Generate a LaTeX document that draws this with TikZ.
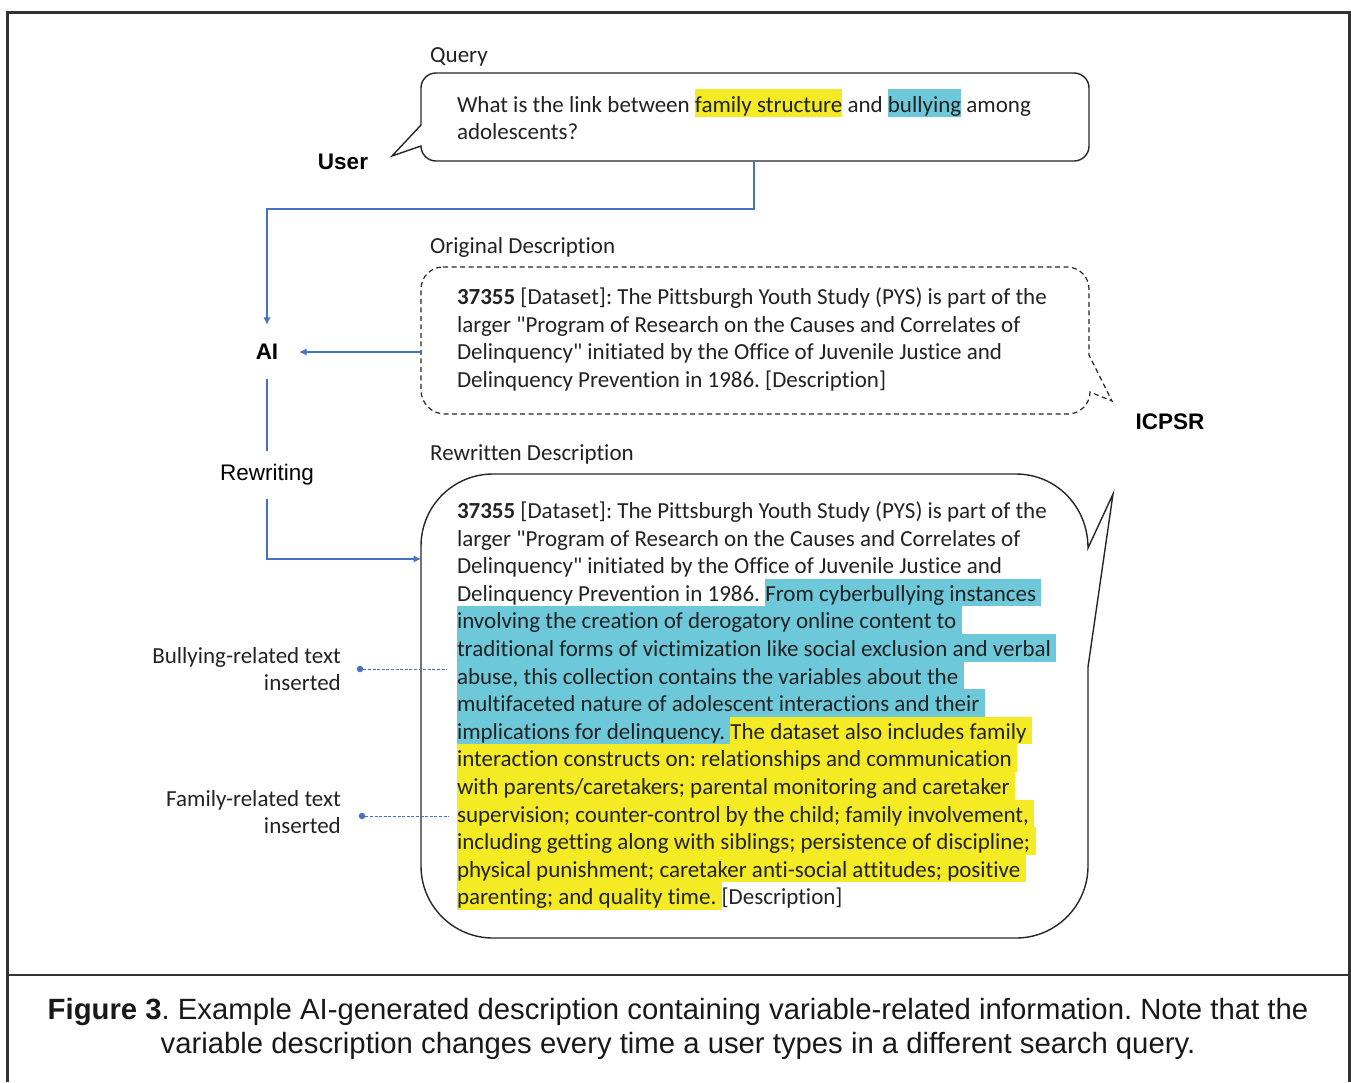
\documentclass[tikz,border=0pt]{standalone}
\usepackage{fontspec}
\setmainfont{Carlito}[Ligatures={TeXOff,CommonOff}]
\newfontfamily\arialf{Liberation Sans}
\usetikzlibrary{arrows.meta}
\definecolor{hly}{HTML}{F4EB24}
\definecolor{hlc}{HTML}{6DC9D9}
\definecolor{connblue}{HTML}{4472C4}
\definecolor{txt}{HTML}{222222}
\definecolor{framec}{HTML}{333333}
\newcommand\bodyfont{\fontsize{23}{27.6}\selectfont}
\newcommand\lblfont{\arialf\fontsize{22.5}{27}\selectfont}
\newcommand\capfont{\arialf\fontsize{29.3}{34}\selectfont}
\newcommand\tsp{\ \null}
\frenchspacing
\tikzset{
  seg/.style={inner sep=0pt, outer sep=0pt, text height=22.6pt, text depth=5pt, anchor=base west, font=\bodyfont, text=txt},
  hy/.style={seg, fill=hly},
  hc/.style={seg, fill=hlc},
  title/.style={inner sep=0pt, anchor=base west, font=\bodyfont, text=txt},
  sidelbl/.style={inner sep=0pt, anchor=east, align=right, font=\bodyfont, text=txt},
  actor/.style={font=\lblfont\bfseries, text=black, inner sep=0pt},
  conn/.style={draw=connblue, line width=2pt},
  arr/.style={-{Latex[length=7.5pt,width=7.5pt]}},
  bubble/.style={draw=black!85, line width=1.4pt},
  dashbubble/.style={draw=black!85, line width=1.2pt, dash pattern=on 5pt off 3.5pt},
  pin/.style={circle, fill=connblue, inner sep=0pt, minimum size=6.5pt},
  pinline/.style={draw=connblue, line width=0.9pt, dash pattern=on 3pt off 1.6pt},
}
\begin{document}
\begin{tikzpicture}[x=1pt,y=-1pt]
\useasboundingbox (0,0) rectangle (1351,1082);
% frame
\draw[framec, line width=2.2pt] (7.5,1082) -- (7.5,12.5) -- (1349.5,12.5) -- (1349.5,1082);
\draw[framec, line width=2.8pt] (7.5,975) -- (1349.5,975);

% ---------- Query bubble ----------
\node[title] (qlbl) at (430,62.5) {Query};
\draw[bubble] (421,125) -- (421,88) .. controls (421,79.7) and (427.7,73) .. (436,73)
  -- (1074,73) .. controls (1082.3,73) and (1089,79.7) .. (1089,88)
  -- (1089,146) .. controls (1089,154.3) and (1082.3,161) .. (1074,161)
  -- (436,161) .. controls (427.7,161) and (421,154.3) .. (421,146)
  -- (392,156) -- cycle;
\node[seg] (q1a) at (457,112) {What is the link between\tsp};
\node[hy] (q1b) at (q1a.base east) {family structure};
\node[seg] (q1c) at (q1b.base east) {\ and\tsp};
\node[hc] (q1d) at (q1c.base east) {bullying};
\node[seg] (q1e) at (q1d.base east) {\ among};
\node[seg] (q2a) at (457,139.6) {adolescents?};
\node[actor] (user) at (343,162) {User};
\coordinate (qdrop) at (754,161);

% ---------- Original description ----------
\node[title] (olbl) at (430,253.5) {Original Description};
\draw[dashbubble] (443,267) -- (1067,267) .. controls (1079.2,267) and (1089,276.8) .. (1089,289)
  -- (1089,355) -- (1112,401) -- (1090,392) .. controls (1090,404) and (1080,414) .. (1068,414)
  -- (445,414) .. controls (431.7,414) and (421,403.3) .. (421,390)
  -- (421,289) .. controls (421,276.8) and (430.8,267) .. (443,267) -- cycle;
\node[seg] (o1) at (457,304.5) {\textbf{37355} [Dataset]: The Pittsburgh Youth Study (PYS) is part of the};
\node[seg] (o2) at (457,332.1) {larger "Program of Research on the Causes and Correlates of};
\node[seg] (o3) at (457,359.7) {Delinquency" initiated by the Office of Juvenile Justice and};
\node[seg] (o4) at (457,387.3) {Delinquency Prevention in 1986. [Description]};
\node[actor] (icpsr) at (1170,422) {ICPSR};
\coordinate (oleft) at (421,352);

% ---------- AI / Rewriting ----------
\node[actor, minimum width=64pt, minimum height=54pt] (ai) at (267,352) {AI};
\node[font=\lblfont, text=black, inner sep=0pt, minimum height=48pt] (rw) at (267,475) {Rewriting};

% ---------- Rewritten description ----------
\node[title] (rlbl) at (430,460.5) {Rewritten Description};
\draw[bubble] (493,474) -- (1016,474) .. controls (1055.8,474) and (1088,506.2) .. (1088,548)
  -- (1113,494) -- (1088,667)
  -- (1088,866) .. controls (1088,905.8) and (1055.8,938) .. (1016,938)
  -- (493,938) .. controls (453.2,938) and (421,905.8) .. (421,866)
  -- (421,546) .. controls (421,506.2) and (453.2,474) .. (493,474) -- cycle;
\coordinate (rleft) at (421,559);

\node[seg] (r1) at (457,518.5) {\textbf{37355} [Dataset]: The Pittsburgh Youth Study (PYS) is part of the};
\node[seg] (r2) at (457,546.1) {larger "Program of Research on the Causes and Correlates of};
\node[seg] (r3) at (457,573.7) {Delinquency" initiated by the Office of Juvenile Justice and};
\node[seg] (r4a) at (457,601.3) {Delinquency Prevention in 1986.\tsp};
\node[hc] (r4b) at (r4a.base east) {From cyberbullying instances\tsp};
\node[hc] (r5) at (457,628.9) {involving the creation of derogatory online content to\tsp};
\node[hc] (r6) at (457,656.5) {traditional forms of victimization like social exclusion and verbal\tsp};
\node[hc] (r7) at (457,684.1) {abuse, this collection contains the variables about the\tsp};
\node[hc] (r8) at (457,711.7) {multifaceted nature of adolescent interactions and their\tsp};
\node[hc] (r9a) at (457,739.3) {implications for delinquency.\tsp};
\node[hy] (r9b) at (r9a.base east) {The dataset also includes family\tsp};
\node[hy] (r10) at (457,766.9) {interaction constructs on: relationships and communication\tsp};
\node[hy] (r11) at (457,794.5) {with parents/caretakers; parental monitoring and caretaker\tsp};
\node[hy] (r12) at (457,822.1) {supervision; counter-control by the child; family involvement,\tsp};
\node[hy] (r13) at (457,849.7) {including getting along with siblings; persistence of discipline;\tsp};
\node[hy] (r14) at (457,877.3) {physical punishment; caretaker anti-social attitudes; positive\tsp};
\node[hy] (r15a) at (457,904.9) {parenting; and quality time.\tsp};
\node[seg] (r15b) at (r15a.base east) {[Description]};

% ---------- connectors ----------
\draw[conn, arr] (qdrop) -- ++(0,48) -| (ai.north);
\draw[conn, arr] (oleft) -- (ai.east);
\draw[conn] (ai.south) -- (rw.north);
\draw[conn, arr] (rw.south) |- (rleft);

% ---------- side labels ----------
\node[sidelbl] (bl) at (341,669) {Bullying-related text\\inserted};
\node[pin] (bdot) at (360,669) {};
\coordinate (bend) at (447,669);
\draw[pinline] (bdot) -- (bend);
\node[sidelbl] (fl) at (341,812) {Family-related text\\inserted};
\node[pin] (fdot) at (362,816) {};
\coordinate (fend) at (449,816);
\draw[pinline] (fdot) -- (fend);

% ---------- caption ----------
\node[font=\capfont, text=black!90, align=center, inner sep=0pt] (cap) at (678,1029)
  {{\bfseries Figure 3}. Example AI-generated description containing variable-related information. Note that the\\
   variable description changes every time a user types in a different search query.};
\end{tikzpicture}
\end{document}
